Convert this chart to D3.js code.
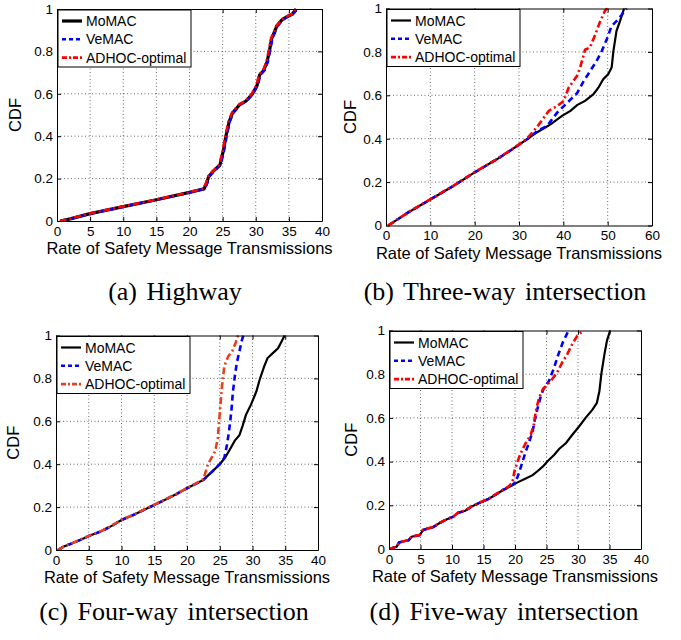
<!DOCTYPE html>
<html>
<head>
<meta charset="utf-8">
<script src="https://cdn.jsdelivr.net/npm/d3@7"></script>
<style>
  body { margin: 0; background: #fff; }
</style>
</head>
<body>
<div id="chart"></div>
<script>
// series names + captions
const seriesNames = ['MoMAC', 'VeMAC', 'ADHOC-optimal'];
const captions = ['(a) Highway', '(b) Three-way intersection', '(c) Four-way intersection', '(d) Five-way intersection'];
const yTicks = [0, 0.2, 0.4, 0.6, 0.8, 1];
const xTicks40 = [0, 5, 10, 15, 20, 25, 30, 35, 40];
const xTicks60 = [0, 10, 20, 30, 40, 50, 60];

// (a) highway  [rate, cdf]
const highwayMoMAC = [[0.5,0],[2,0.01],[5,0.035],[10,0.068],[15,0.1],[20,0.135],[22.2,0.152],[22.6,0.18],[22.9,0.21],[23.6,0.235],[24.6,0.265],[25.1,0.33],[25.5,0.4],[26,0.47],[26.5,0.51],[27.6,0.55],[28.5,0.565],[29.5,0.6],[30.2,0.64],[30.6,0.69],[31.2,0.71],[31.7,0.75],[32.05,0.8],[32.4,0.86],[33.2,0.92],[34,0.95],[34.8,0.965],[35.5,0.975],[36.1,1]];
const highwayVeMAC = [[0.6,0],[2,0.01],[5,0.034],[10,0.067],[15,0.1],[20,0.134],[22.3,0.152],[22.7,0.18],[23,0.21],[23.7,0.235],[24.7,0.265],[25.2,0.33],[25.6,0.4],[26.1,0.47],[26.6,0.51],[27.7,0.55],[28.6,0.565],[29.6,0.6],[30.3,0.64],[30.7,0.69],[31.3,0.71],[31.8,0.75],[32.15,0.8],[32.5,0.86],[33.3,0.92],[34.1,0.95],[34.9,0.965],[35.6,0.975],[36.3,1]];
const highwayADHOC = [[0.4,0],[2,0.011],[5,0.036],[10,0.069],[15,0.101],[20,0.136],[22.1,0.152],[22.5,0.18],[22.8,0.21],[23.5,0.235],[24.5,0.265],[25,0.33],[25.4,0.4],[25.9,0.47],[26.4,0.51],[27.5,0.55],[28.4,0.565],[29.4,0.6],[30.1,0.64],[30.5,0.69],[31.1,0.71],[31.6,0.75],[31.95,0.8],[32.3,0.86],[33.1,0.92],[33.9,0.95],[34.7,0.965],[35.4,0.975],[36,1]];

// (b) three-way intersection
const threeWayMoMAC = [[0.5,0],[2,0.02],[5,0.06],[10,0.12],[15,0.18],[20,0.245],[25,0.305],[28,0.345],[30,0.372],[32,0.4],[34.1,0.43],[37.1,0.466],[39.7,0.505],[41.6,0.528],[43.1,0.555],[44.9,0.574],[46.8,0.605],[47.9,0.635],[49,0.674],[50.1,0.697],[50.9,0.728],[51.3,0.805],[52,0.897],[52.8,0.943],[53.7,1]];
const threeWayVeMAC = [[0.5,0],[2,0.02],[5,0.06],[10,0.12],[15,0.18],[20,0.245],[25,0.305],[28,0.345],[30,0.372],[32,0.4],[34.1,0.435],[36.3,0.458],[38.6,0.52],[40.1,0.55],[41.6,0.58],[43.1,0.61],[44.6,0.666],[46,0.71],[47.5,0.758],[48.7,0.805],[49.8,0.858],[50.9,0.92],[52.4,0.95],[53.9,0.99],[54.3,1]];
const threeWayADHOC = [[0.5,0],[2,0.02],[5,0.061],[10,0.121],[15,0.181],[20,0.246],[25,0.306],[28,0.346],[30,0.374],[31.5,0.395],[33,0.428],[34.5,0.466],[36.7,0.528],[38.6,0.55],[40.1,0.574],[41.2,0.635],[43.1,0.69],[43.8,0.728],[44.9,0.81],[46,0.82],[47.2,0.88],[48.3,0.94],[49.4,0.99],[49.9,1]];

// (c) four-way intersection
const fourWayMoMAC = [[0.3,0],[1.2,0.016],[2.2,0.028],[3.7,0.047],[5,0.065],[6.8,0.086],[8.3,0.109],[10,0.14],[11.8,0.163],[13.4,0.187],[15,0.21],[16.9,0.238],[18.4,0.261],[20,0.288],[21.5,0.311],[22.5,0.327],[24,0.37],[25,0.4],[25.8,0.43],[26.5,0.466],[27.3,0.51],[28,0.535],[28.5,0.58],[29,0.63],[29.8,0.68],[30.6,0.74],[31.1,0.795],[31.8,0.857],[32.3,0.895],[33.1,0.918],[33.9,0.94],[34.4,0.97],[34.9,1]];
const fourWayVeMAC = [[0.3,0],[1.2,0.016],[2.2,0.028],[3.7,0.047],[5,0.065],[6.8,0.086],[8.3,0.109],[10,0.14],[11.8,0.163],[13.4,0.187],[15,0.21],[16.9,0.238],[18.4,0.261],[20,0.288],[21.5,0.311],[22.5,0.327],[24,0.37],[25,0.4],[25.7,0.43],[26.1,0.49],[26.4,0.55],[26.6,0.6],[26.8,0.657],[27,0.734],[27.3,0.81],[27.6,0.872],[28,0.926],[28.4,0.98],[28.6,1]];
const fourWayADHOC = [[0.3,0],[1.2,0.017],[2.2,0.029],[3.7,0.048],[5,0.066],[6.8,0.087],[8.3,0.11],[10,0.141],[11.8,0.164],[13.4,0.188],[15,0.211],[16.9,0.239],[18.4,0.262],[20,0.289],[21.5,0.313],[22.5,0.33],[23.2,0.4],[24.3,0.46],[24.7,0.52],[24.9,0.6],[25.1,0.673],[25.35,0.765],[25.7,0.857],[26.3,0.903],[26.9,0.926],[27.4,0.964],[27.8,1]];

// (d) five-way intersection
const fiveWayMoMAC = [[0,0],[1.2,0.01],[1.6,0.03],[3.1,0.04],[3.6,0.056],[4.9,0.064],[5.4,0.087],[7,0.1],[8.1,0.12],[9.2,0.136],[10.2,0.148],[11,0.166],[12.1,0.175],[13.1,0.194],[14.4,0.212],[15.8,0.229],[17.1,0.252],[18.1,0.27],[19.2,0.286],[20.4,0.305],[21.7,0.323],[22.8,0.338],[23.6,0.357],[24.4,0.377],[25.2,0.403],[26.2,0.43],[27,0.458],[28.1,0.485],[29.1,0.523],[30.2,0.562],[31.2,0.6],[32.3,0.638],[33,0.669],[33.4,0.723],[33.7,0.8],[34.2,0.892],[34.6,0.954],[35.1,1]];
const fiveWayVeMAC = [[0,0],[1.2,0.01],[1.6,0.03],[3.1,0.04],[3.6,0.056],[4.9,0.064],[5.4,0.087],[7,0.1],[8.1,0.12],[9.2,0.136],[10.2,0.148],[11,0.166],[12.1,0.175],[13.1,0.194],[14.4,0.212],[15.8,0.229],[17.1,0.252],[18.1,0.27],[19.2,0.286],[20.1,0.305],[20.7,0.354],[21.2,0.4],[21.7,0.446],[22.2,0.485],[22.8,0.538],[23.1,0.585],[23.6,0.646],[24.1,0.7],[24.6,0.738],[25.4,0.769],[26.2,0.83],[26.9,0.892],[27.6,0.946],[28.5,1]];
const fiveWayADHOC = [[0,0],[1.2,0.011],[1.6,0.031],[3.1,0.041],[3.6,0.057],[4.9,0.065],[5.4,0.088],[7,0.101],[8.1,0.121],[9.2,0.137],[10.2,0.149],[11,0.167],[12.1,0.176],[13.1,0.195],[14.4,0.213],[15.8,0.23],[17.1,0.253],[18.1,0.271],[19,0.287],[19.6,0.305],[19.9,0.354],[20.4,0.4],[20.9,0.438],[21.7,0.485],[22.5,0.523],[23,0.57],[23.3,0.63],[23.8,0.69],[24.4,0.73],[25.7,0.77],[26.7,0.808],[27.5,0.854],[28.3,0.892],[29.1,0.938],[29.9,0.977],[30.9,1]];

const W = 681, H = 640;

const panels = [
  { left: 57, right: 322, top: 9, bottom: 221, xMax: 40, xTicks: xTicks40, data: [highwayMoMAC, highwayVeMAC, highwayADHOC], blackW: 3.2, red: '#ff0000', cap: [175, 300], ylab: 15 },
  { left: 386, right: 652, top: 8.5, bottom: 225.5, xMax: 60, xTicks: xTicks60, data: [threeWayMoMAC, threeWayVeMAC, threeWayADHOC], blackW: 2.2, red: '#ff0000', cap: [505, 300], ylab: 350 },
  { left: 56, right: 318, top: 335.5, bottom: 550, xMax: 40, xTicks: xTicks40, data: [fourWayMoMAC, fourWayVeMAC, fourWayADHOC], blackW: 2.2, red: '#e8401e', cap: [174, 620], ylab: 13 },
  { left: 389, right: 641, top: 330.5, bottom: 549, xMax: 40, xTicks: xTicks60 && xTicks40, data: [fiveWayMoMAC, fiveWayVeMAC, fiveWayADHOC], blackW: 2.2, red: '#ff0000', cap: [504, 620], ylab: 351 }
];

const svg = d3.select('#chart').append('svg')
  .attr('width', W).attr('height', H)
  .style('font-family', '"Liberation Sans", Arial, Helvetica, sans-serif');

svg.append('rect').attr('width', W).attr('height', H).attr('fill', '#fff');

panels.forEach((p, i) => {
  const x = d3.scaleLinear().domain([0, p.xMax]).range([p.left, p.right]);
  const y = d3.scaleLinear().domain([0, 1]).range([p.bottom, p.top]);
  const g = svg.append('g');

  // dotted grid
  g.append('g').selectAll('line')
    .data(p.xTicks.slice(1, -1))
    .join('line')
    .attr('x1', d => x(d)).attr('x2', d => x(d))
    .attr('y1', p.top).attr('y2', p.bottom)
    .attr('stroke', '#444').attr('stroke-width', 0.8).attr('stroke-dasharray', '1,2.5');
  g.append('g').selectAll('line')
    .data(yTicks.slice(1, -1))
    .join('line')
    .attr('y1', d => y(d)).attr('y2', d => y(d))
    .attr('x1', p.left).attr('x2', p.right)
    .attr('stroke', '#444').attr('stroke-width', 0.8).attr('stroke-dasharray', '1,2.5');

  // curves
  const clipId = 'clip' + i;
  g.append('clipPath').attr('id', clipId).append('rect')
    .attr('x', p.left).attr('y', p.top - 2)
    .attr('width', p.right - p.left).attr('height', p.bottom - p.top + 2);

  const line = d3.line().x(d => x(d[0])).y(d => y(d[1]));
  const styles = [
    { color: '#000', w: p.blackW, dash: null },
    { color: '#0000ff', w: 2.6, dash: '6,4' },
    { color: p.red, w: 2.6, dash: '7,3,2,3' }
  ];
  p.data.forEach((s, k) => {
    g.append('path')
      .datum(s)
      .attr('clip-path', `url(#${clipId})`)
      .attr('d', line)
      .attr('fill', 'none')
      .attr('stroke', styles[k].color)
      .attr('stroke-width', styles[k].w)
      .attr('stroke-dasharray', styles[k].dash);
  });

  // axes, matlab style ticks pointing inward on all four sides
  const axB = g.append('g').attr('transform', `translate(0,${p.bottom})`)
    .call(d3.axisBottom(x).tickValues(p.xTicks).tickSizeInner(-4).tickSizeOuter(0).tickPadding(5));
  const axL = g.append('g').attr('transform', `translate(${p.left},0)`)
    .call(d3.axisLeft(y).tickValues(yTicks).tickFormat(d3.format('~g')).tickSizeInner(-4).tickSizeOuter(0).tickPadding(4));
  g.append('g').attr('transform', `translate(0,${p.top})`)
    .call(d3.axisTop(x).tickValues(p.xTicks).tickFormat('').tickSizeInner(-4).tickSizeOuter(0));
  g.append('g').attr('transform', `translate(${p.right},0)`)
    .call(d3.axisRight(y).tickValues(yTicks).tickFormat('').tickSizeInner(-4).tickSizeOuter(0));
  g.selectAll('.domain, .tick line').attr('stroke', '#000');
  [axB, axL].forEach(a => a.selectAll('text')
    .attr('fill', '#000')
    .style('font-size', '13.5px')
    .style('font-family', '"Liberation Sans", Arial, sans-serif'));

  // axis labels
  g.append('text')
    .attr('x', (p.left + p.right) / 2).attr('y', p.bottom + 33)
    .attr('text-anchor', 'middle')
    .style('font-size', '16.5px')
    .text('Rate of Safety Message Transmissions');
  g.append('text')
    .attr('transform', `translate(${p.ylab + 6},${(p.top + p.bottom) / 2}) rotate(-90)`)
    .attr('text-anchor', 'middle')
    .style('font-size', '16.5px')
    .text('CDF');

  // legend
  const lg = g.append('g').attr('transform', `translate(${p.left + 1},${p.top + 1})`);
  lg.append('rect')
    .attr('width', 133).attr('height', 57)
    .attr('fill', '#fff').attr('stroke', '#000').attr('stroke-width', 1);
  seriesNames.forEach((name, k) => {
    const ry = 11 + k * 18.3;
    lg.append('line')
      .attr('x1', 4).attr('x2', 24).attr('y1', ry).attr('y2', ry)
      .attr('stroke', styles[k].color).attr('stroke-width', styles[k].w)
      .attr('stroke-dasharray', k === 1 ? '4,3' : (k === 2 ? '5,2,2,2' : null));
    lg.append('text')
      .attr('x', 28).attr('y', ry + 5)
      .style('font-size', '14px')
      .text(name);
  });

  // caption
  svg.append('text')
    .attr('x', p.cap[0]).attr('y', p.cap[1])
    .attr('text-anchor', 'middle')
    .style('font-family', '"Liberation Serif", "Times New Roman", serif')
    .style('font-size', '26px')
    .style('word-spacing', '3px')
    .text(captions[i]);
});
</script>
</body>
</html>
